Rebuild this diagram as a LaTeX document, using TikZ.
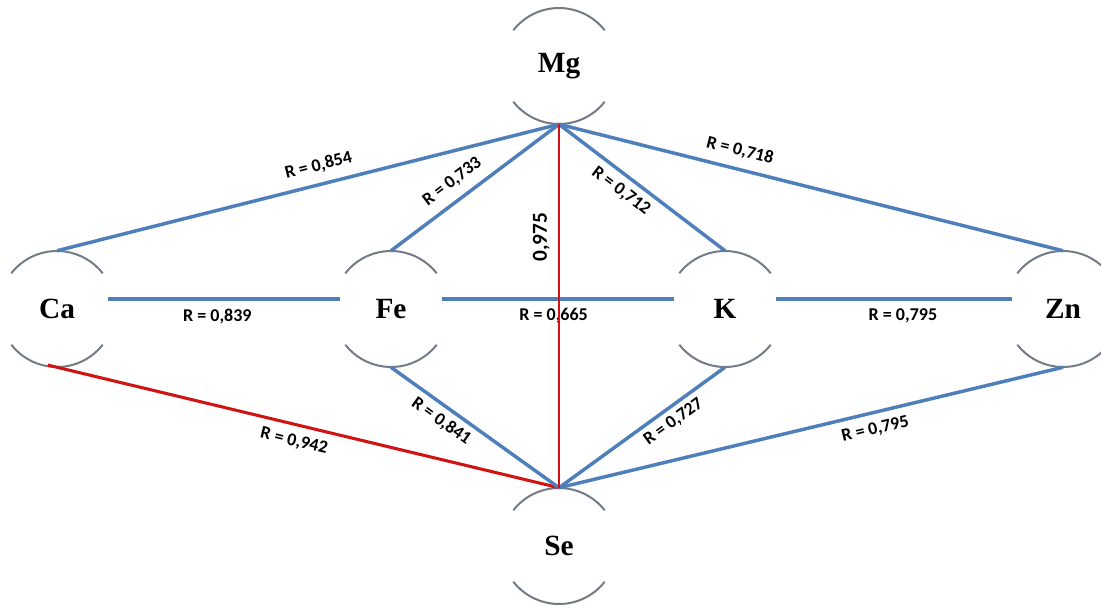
\documentclass[tikz,border=0pt]{standalone}
\usepackage{fontspec}
\setmainfont{Liberation Serif}
\newfontfamily\carlito{Carlito}
\usepackage{tikz}
\definecolor{linkblue}{HTML}{4F7FBA}
\definecolor{linkred}{HTML}{D01414}
\definecolor{rimgrey}{HTML}{747B86}
\newcommand{\AtomFont}{\fontsize{22}{26}\selectfont\bfseries}
\newcommand{\CoefFont}{\fontsize{13.5}{16}\selectfont\carlito\bfseries}
\newcommand{\BigCoefFont}{\fontsize{16}{19}\selectfont\carlito\bfseries}

\begin{document}
\begin{tikzpicture}[x=0.75pt,y=-0.75pt,
    atom/.style={circle,minimum size=87pt,inner sep=0pt,font=\AtomFont},
    rim/.style={rimgrey,line width=1.5pt},
    link/.style={linkblue,line width=2.6pt},
    hot/.style={linkred,line width=2.3pt},
    hlink/.style={link,shorten <=-5pt,shorten >=-5pt},
    coef/.style={font=\CoefFont,text=black,inner sep=1pt,sloped},
    coefv/.style={font=\BigCoefFont,text=black,inner sep=1pt,rotate=90}]
  \fill[white] (0,0) rectangle (1101,608);
  \clip (0,0) rectangle (1101,608);
  % element circles, open at the sides
  \foreach \n/\x/\y in {Mg/559/66,Ca/57/309,Fe/391/309,K/725/309,Zn/1063/309,Se/559/546}{
    \node[atom] (\n) at (\x,\y) {\n};
    \draw[rim] ([shift={(38:58)}]\n.center) arc[start angle=38,end angle=142,radius=58];
    \draw[rim] ([shift={(218:58)}]\n.center) arc[start angle=218,end angle=322,radius=58];
  }
  % links to Mg
  \draw[link] (Ca.north) -- (Mg.south) node[coef,pos=0.53,above=6pt] {R = 0,854};
  \draw[link] (Fe.north) -- (Mg.south) node[coef,pos=0.43,above=6pt] {R = 0,733};
  \draw[link] (Mg.south) -- (K.north) node[coef,pos=0.43,below=4pt] {R = 0,712};
  \draw[link] (Mg.south) -- (Zn.north) node[coef,pos=0.35,above=6pt] {R = 0,718};
  % middle row
  \draw[hlink] (Ca.10) -- (Fe.170) node[coef,pos=0.47,below=5pt] {R = 0,839};
  \draw[hlink] (Fe.10) -- (K.170) node[coef,pos=0.48,below=5pt] {R = 0,665};
  \draw[hlink] (K.10) -- (Zn.170) node[coef,pos=0.54,below=5pt] {R = 0,795};
  % links to Se
  \draw[hot,shorten <=-7pt] (Ca.south) -- (Se.north) node[coef,pos=0.48,below=5pt] {R = 0,942};
  \draw[link] (Fe.south) -- (Se.north) node[coef,pos=0.35,below=3pt] {R = 0,841};
  \draw[link] (K.south) -- (Se.north) node[coef,pos=0.36,below=3pt] {R = 0,727};
  \draw[link] (Se.north) -- (Zn.south) node[coef,pos=0.62,below=5pt] {R = 0,795};
  \draw[hot,line width=2pt] (Mg.south) -- (Se.north) node[coefv,pos=0.31,above=5pt] {0,975};
\end{tikzpicture}
\end{document}
